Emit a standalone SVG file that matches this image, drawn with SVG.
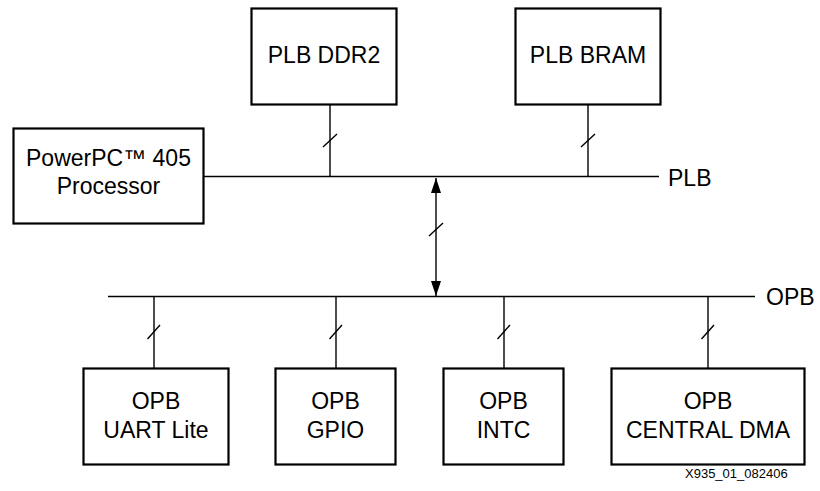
<svg xmlns="http://www.w3.org/2000/svg" width="820" height="491" viewBox="0 0 820 491">
<style>
.box{fill:#fff;stroke:#000;stroke-width:2.2}
.ln{stroke:#000;stroke-width:1.4;fill:none}
.sl{stroke:#000;stroke-width:1.4}
text{font-family:"Liberation Sans",Arial,sans-serif;font-size:23px;fill:#000}
.c{text-anchor:middle}
.s{font-size:13px}
</style>
<defs>
<marker id="ah" markerWidth="15" markerHeight="10" refX="15" refY="5" orient="auto-start-reverse" markerUnits="userSpaceOnUse" viewBox="0 0 15 10">
<path d="M0,0 L15,5 L0,10 Z" fill="#000"/>
</marker>
</defs>
<g id="connectors">
<line class="ln" x1="204" y1="176.5" x2="659" y2="176.5"/>
<line class="ln" x1="108" y1="296.5" x2="755" y2="296.5"/>
<line class="ln" x1="330" y1="105" x2="330" y2="176.5"/>
<line class="sl" x1="323" y1="147" x2="337" y2="134"/>
<line class="ln" x1="588" y1="105" x2="588" y2="176.5"/>
<line class="sl" x1="581" y1="147" x2="595" y2="134"/>
<line class="ln" x1="436" y1="178" x2="436" y2="296" marker-start="url(#ah)" marker-end="url(#ah)"/>
<line class="sl" x1="429" y1="236" x2="443" y2="223"/>
<line class="ln" x1="154" y1="296.5" x2="154" y2="368"/>
<line class="sl" x1="147.5" y1="339" x2="160" y2="325"/>
<line class="ln" x1="336" y1="296.5" x2="336" y2="368"/>
<line class="sl" x1="329.5" y1="339" x2="342" y2="325"/>
<line class="ln" x1="504" y1="296.5" x2="504" y2="368"/>
<line class="sl" x1="497.5" y1="339" x2="510" y2="325"/>
<line class="ln" x1="708" y1="296.5" x2="708" y2="368"/>
<line class="sl" x1="701.5" y1="339" x2="714" y2="325"/>
</g>
<g id="bus-labels">
<text x="668" y="186">PLB</text>
<text x="766" y="305">OPB</text>
</g>
<g id="ppc">
<rect class="box" x="13.5" y="128.5" width="190" height="95"/>
<text class="c" x="108.5" y="166">PowerPC™ 405</text>
<text class="c" x="108.5" y="194">Processor</text>
</g>
<g id="ddr2">
<rect class="box" x="251.5" y="8.5" width="145" height="96"/>
<text class="c" x="324" y="63">PLB DDR2</text>
</g>
<g id="bram">
<rect class="box" x="515.5" y="8.5" width="145" height="96"/>
<text class="c" x="588" y="63">PLB BRAM</text>
</g>
<g id="uart">
<rect class="box" x="83.5" y="368.5" width="145" height="96"/>
<text class="c" x="156" y="409">OPB</text>
<text class="c" x="156" y="438">UART Lite</text>
</g>
<g id="gpio">
<rect class="box" x="275.5" y="368.5" width="120" height="96"/>
<text class="c" x="335.5" y="409">OPB</text>
<text class="c" x="335.5" y="438">GPIO</text>
</g>
<g id="intc">
<rect class="box" x="443.5" y="368.5" width="120" height="96"/>
<text class="c" x="503.5" y="409">OPB</text>
<text class="c" x="503.5" y="438">INTC</text>
</g>
<g id="dma">
<rect class="box" x="611.5" y="368.5" width="193" height="96"/>
<text class="c" x="708" y="409">OPB</text>
<text class="c" x="708" y="438">CENTRAL DMA</text>
</g>
<text class="s" x="685" y="478">X935_01_082406</text>
</svg>
